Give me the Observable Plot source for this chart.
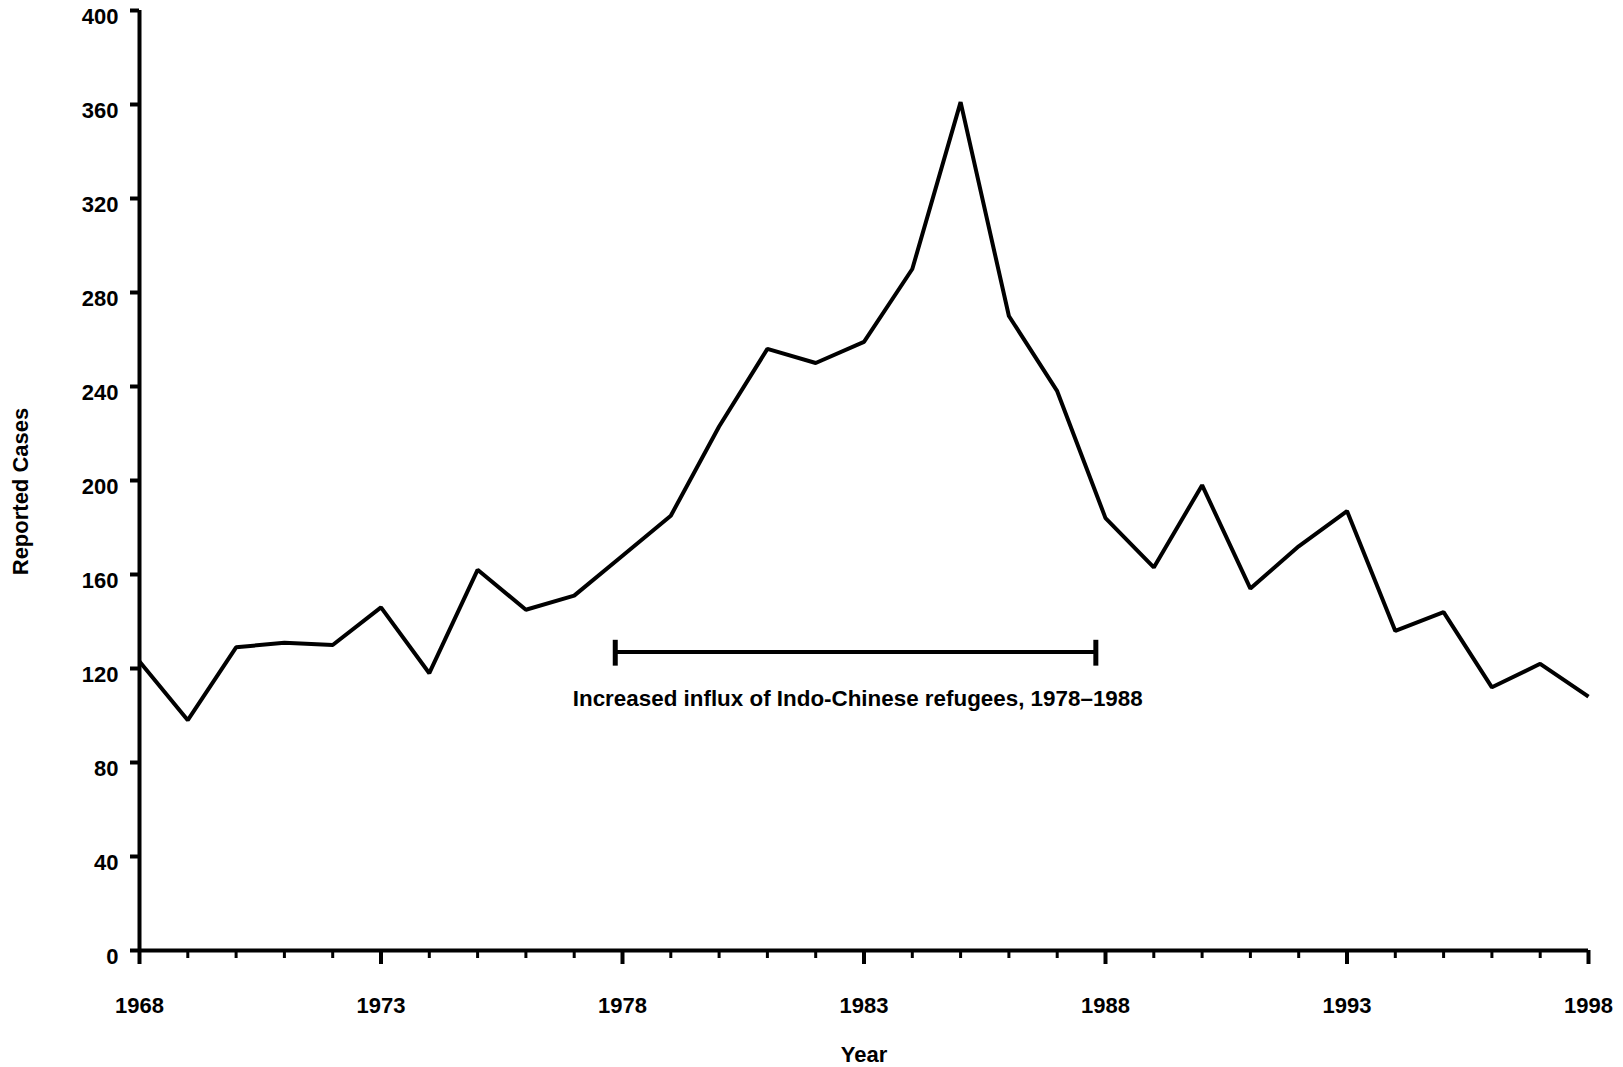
<!DOCTYPE html>
<html>
<head>
<meta charset="utf-8">
<script src="https://cdn.jsdelivr.net/npm/d3@7"></script>
<script src="https://cdn.jsdelivr.net/npm/@observablehq/plot@0.6"></script>
<style>
  body { margin: 0; background: #fff; }
  #chart svg { display: block; }
</style>
</head>
<body>
<div id="chart"></div>
<script>
// ---- data ----
const years = [1968, 1969, 1970, 1971, 1972, 1973, 1974, 1975, 1976, 1977,
               1978, 1979, 1980, 1981, 1982, 1983, 1984, 1985, 1986, 1987,
               1988, 1989, 1990, 1991, 1992, 1993, 1994, 1995, 1996, 1997, 1998];
const cases = [123, 98, 129, 131, 130, 146, 118, 162, 145, 151,
               168, 185, 223, 256, 250, 259, 290, 361, 270, 238,
               184, 163, 198, 154, 172, 187, 136, 144, 112, 122, 108];
const majorYears = [1968, 1973, 1978, 1983, 1988, 1993, 1998];
const yTicks = [0, 40, 80, 120, 160, 200, 240, 280, 320, 360, 400];

// annotation: refugee influx period (bracket as drawn in the picture)
const influxYears = [1977.85, 1987.8];
const influxLevel = [127];
const influxCapRange = [121, 132];
const influxNoteYear = [1982.87];
const influxNoteLevel = [107];
const influxNote = ["Increased influx of Indo-Chinese refugees, 1978\u20131988"];

const xLabel = "Year";
const yLabel = "Reported Cases";

const font = "'Liberation Sans', Arial, Helvetica, sans-serif";
const table = years.map((y, i) => ({year: y, cases: cases[i]}));

const chart = Plot.plot({
  width: 1623,
  height: 1067,
  marginLeft: 139,
  marginRight: 35,
  marginTop: 10,
  marginBottom: 117,
  style: {fontFamily: font, fontSize: "22px", fontWeight: "bold", color: "#000", background: "#fff"},
  x: {domain: [years[0], years[years.length - 1]]},
  y: {domain: [yTicks[0], yTicks[yTicks.length - 1]]},
  marks: [
    // minor year ticks
    Plot.axisX({ticks: years, tickSize: 8, strokeWidth: 3, tickFormat: () => "", label: null}),
    // major ticks with labels
    Plot.axisX({ticks: majorYears, tickSize: 14, tickPadding: 33, strokeWidth: 4,
                tickFormat: d => String(d), label: null,
                fontSize: 22, fontWeight: "bold", fontFamily: font}),
    // y tick lines
    Plot.axisY({ticks: yTicks, tickSize: 9, strokeWidth: 4, tickFormat: () => "", label: null}),
    // y tick labels (sit slightly below their ticks, as in the original)
    Plot.axisY({ticks: yTicks, tickSize: 0, tickPadding: 21, dy: 6, label: null,
                fontSize: 22, fontWeight: "bold", fontFamily: font}),
    // axis lines
    Plot.ruleY([yTicks[0]], {strokeWidth: 4, stroke: "#000"}),
    Plot.ruleX([years[0]], {strokeWidth: 4, stroke: "#000"}),
    // data line
    Plot.line(table, {x: "year", y: "cases", stroke: "#000", strokeWidth: 4,
                      strokeLinejoin: "miter", strokeLinecap: "butt"}),
    // annotation bracket
    Plot.ruleY(influxLevel, {x1: influxYears[0], x2: influxYears[1], stroke: "#000", strokeWidth: 4}),
    Plot.ruleX(influxYears, {y1: influxCapRange[0], y2: influxCapRange[1], stroke: "#000", strokeWidth: 5}),
    Plot.text(influxNote, {x: influxNoteYear, y: influxNoteLevel, text: d => d,
                           fontSize: 22.4, fontWeight: "bold", fontFamily: font, fill: "#000"}),
    // axis titles
    Plot.text([xLabel], {frameAnchor: "bottom", dy: 104, lineAnchor: "middle", textAnchor: "middle",
                         text: d => d, fontSize: 22, fontWeight: "bold", fontFamily: font, fill: "#000"}),
    Plot.text([yLabel], {frameAnchor: "left", dx: -119, dy: 11, rotate: -90,
                         textAnchor: "middle", lineAnchor: "middle", text: d => d,
                         fontSize: 22, fontWeight: "bold", fontFamily: font, fill: "#000"})
  ]
});
document.getElementById("chart").appendChild(chart);
</script>
</body>
</html>
